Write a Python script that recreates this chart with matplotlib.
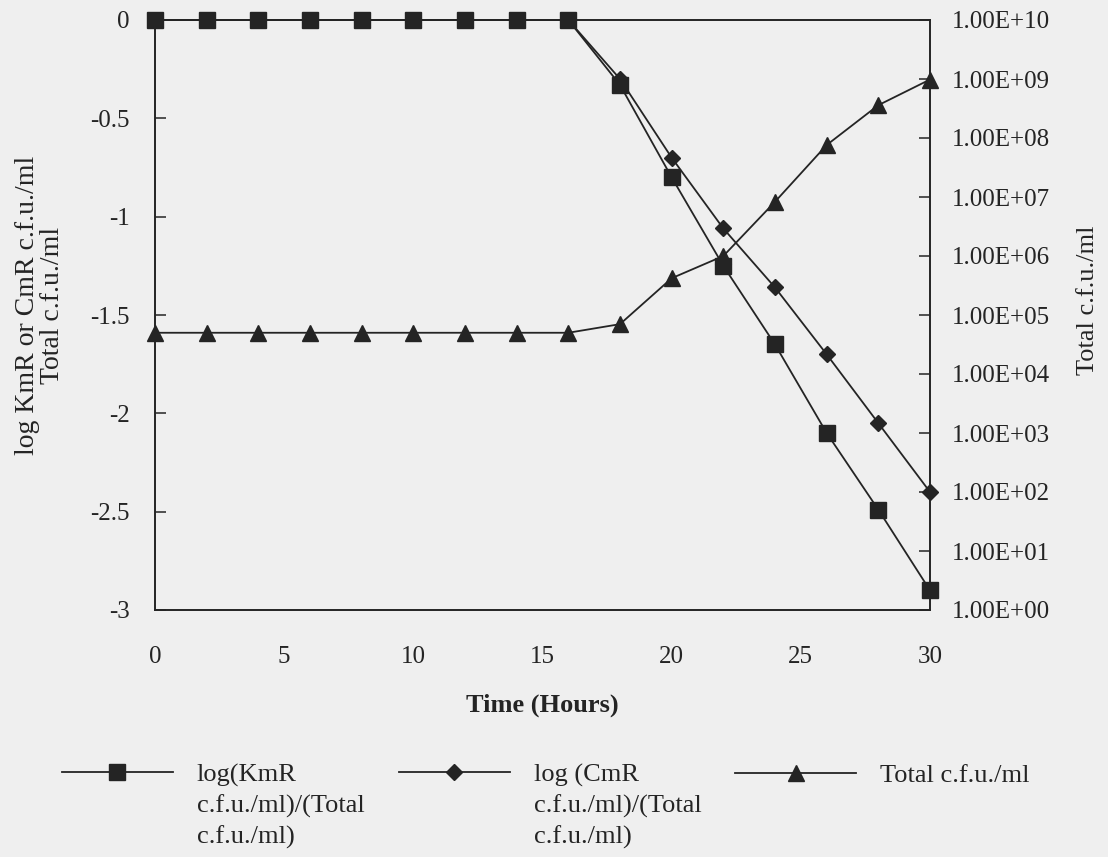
import matplotlib
matplotlib.use('Agg')
import matplotlib.pyplot as plt
from matplotlib.ticker import FuncFormatter, FixedLocator, NullLocator
from matplotlib.lines import Line2D

plt.rcParams['font.family'] = ['Liberation Serif', 'DejaVu Serif']

hours = [0, 2, 4, 6, 8, 10, 12, 14, 16, 18, 20, 22, 24, 26, 28, 30]
kmr_log = [0, 0, 0, 0, 0, 0, 0, 0, 0, -0.33, -0.80, -1.25, -1.65, -2.10, -2.49, -2.90]
cmr_log = [0, 0, 0, 0, 0, 0, 0, 0, 0, -0.30, -0.70, -1.06, -1.36, -1.70, -2.05, -2.40]
total_cfu = [5.0e4, 5.0e4, 5.0e4, 5.0e4, 5.0e4, 5.0e4, 5.0e4, 5.0e4, 5.0e4,
             7.0e4, 4.2e5, 1.0e6, 8.3e6, 7.6e7, 3.6e8, 9.8e8]

left_ticks = [0, -0.5, -1, -1.5, -2, -2.5, -3]
right_ticks = [1e0, 1e1, 1e2, 1e3, 1e4, 1e5, 1e6, 1e7, 1e8, 1e9, 1e10]
x_ticks = [0, 5, 10, 15, 20, 25, 30]

legend_lines = [
    ['log(KmR', 'c.f.u./ml)/(Total', 'c.f.u./ml)'],
    ['log (CmR', 'c.f.u./ml)/(Total', 'c.f.u./ml)'],
    ['Total c.f.u./ml'],
]

bg = '#efefef'
ink = '#242424'
W, H = 1108, 857
fs_tick = 18
fs_lab = 19

fig = plt.figure(figsize=(W / 100, H / 100), dpi=100, facecolor=bg)
ax = fig.add_axes([155 / W, 1 - 610 / H, (930 - 155) / W, (610 - 20) / H])
ax.set_facecolor(bg)
ax2 = ax.twinx()

line_kw = dict(color=ink, lw=1.3, clip_on=False, markeredgecolor=ink, markerfacecolor=ink)
h1, = ax.plot(hours, kmr_log, marker='s', ms=11.5, **line_kw)
h2, = ax.plot(hours, cmr_log, marker='D', ms=8.5, **line_kw)
h3, = ax2.plot(hours, total_cfu, marker='^', ms=12, **line_kw)
# squares drawn on top of diamonds where they overlap
h1.set_zorder(3)

ax.set_xlim(0, 30)
ax.set_ylim(-3, 0)
ax2.set_yscale('log')
ax2.set_ylim(1, 1e10)

ax.xaxis.set_major_locator(FixedLocator(x_ticks))
ax.set_yticks(left_ticks)
ax.set_yticklabels([f'{v:g}' for v in left_ticks])
ax2.yaxis.set_major_locator(FixedLocator(right_ticks))
ax2.yaxis.set_minor_locator(NullLocator())
ax2.yaxis.set_major_formatter(FuncFormatter(lambda v, p: f'{v:.2E}'))

ax.tick_params(axis='x', length=0, pad=26, labelsize=fs_tick, colors=ink)
ax.tick_params(axis='y', direction='in', length=8, width=1.1, pad=18,
               labelsize=fs_tick, colors=ink, left=True, right=False)
ax2.tick_params(axis='y', direction='in', length=8, width=1.1, pad=16,
                labelsize=fs_tick, colors=ink)

for a in (ax, ax2):
    for s in a.spines.values():
        s.set_color(ink)
        s.set_linewidth(1.2)

ax.set_xlabel('Time (Hours)', fontsize=fs_lab, fontweight='bold', color=ink, labelpad=18)
fig.text(40 / W, 1 - 305 / H, 'log KmR or CmR c.f.u./ml\nTotal c.f.u./ml',
         rotation=90, ha='center', va='center', fontsize=20, color=ink,
         linespacing=1.05)
fig.text(1088 / W, 1 - 300 / H, 'Total c.f.u./ml', rotation=90,
         ha='center', va='center', fontsize=fs_lab, color=ink)

# legend: one entry per column, first label line next to handle
row_y = 1 - 775 / H
starts = [62, 399, 735]
hlens = [4.2, 4.2, 4.6]
legs = []
for handle, lines, x0, hl in zip([h1, h2, h3], legend_lines, starts, hlens):
    lh = Line2D([], [], color=ink, lw=1.3, marker=handle.get_marker(),
                ms=handle.get_markersize(), markerfacecolor=ink, markeredgecolor=ink)
    leg = fig.legend([lh], [lines[0]], loc='center left', bbox_to_anchor=(x0 / W, row_y),
                     frameon=False, fontsize=fs_lab, handlelength=hl,
                     handletextpad=0.9, borderpad=0, borderaxespad=0)
    for t in leg.get_texts():
        t.set_color(ink)
    legs.append(leg)

fig.canvas.draw()
for leg, lines in zip(legs, legend_lines):
    bb = leg.get_texts()[0].get_window_extent()
    cy = (bb.y0 + bb.y1) / 2
    for k, txt in enumerate(lines[1:], start=1):
        fig.text(bb.x0 / W, (cy - 31 * k) / H, txt, ha='left', va='center',
                 fontsize=fs_lab, color=ink)

fig.savefig('out.png', dpi=100, facecolor=bg)
